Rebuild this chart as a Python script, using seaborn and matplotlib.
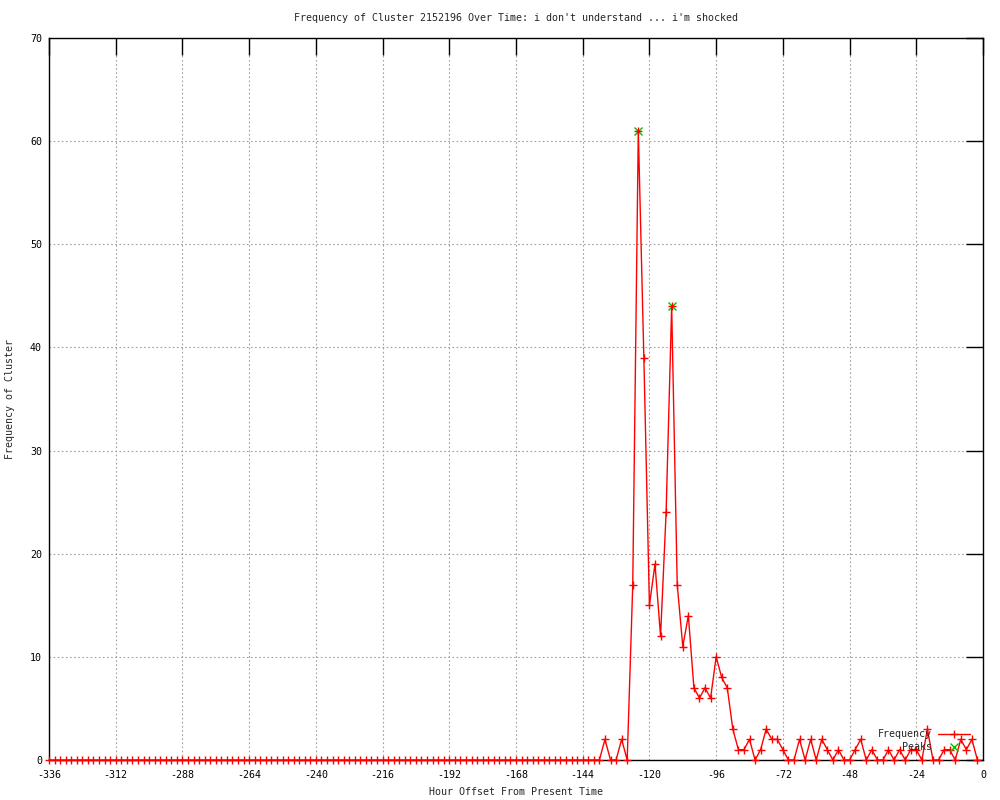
import numpy as np
import pandas as pd
import seaborn as sns
import matplotlib.pyplot as plt

# hours sampled every 2h from -336 to -2
hours = np.arange(-336, 0, 2)

freq = [
    0, 0, 0, 0, 0, 0, 0, 0, 0, 0, 0, 0, 0, 0, 0, 0, 0, 0, 0, 0,
    0, 0, 0, 0, 0, 0, 0, 0, 0, 0, 0, 0, 0, 0, 0, 0, 0, 0, 0, 0,
    0, 0, 0, 0, 0, 0, 0, 0, 0, 0, 0, 0, 0, 0, 0, 0, 0, 0, 0, 0,
    0, 0, 0, 0, 0, 0, 0, 0, 0, 0, 0, 0, 0, 0, 0, 0, 0, 0, 0, 0,
    0, 0, 0, 0, 0, 0, 0, 0, 0, 0, 0, 0, 0, 0, 0, 0, 0, 0, 0, 0,
    2, 0, 0, 2, 0, 17, 61, 39, 15, 19, 12, 24, 44, 17, 11, 14, 7, 6, 7, 6,
    10, 8, 7, 3, 1, 1, 2, 0, 1, 3, 2, 2, 1, 0, 0, 2, 0, 2, 0, 2,
    1, 0, 1, 0, 0, 1, 2, 0, 1, 0, 0, 1, 0, 1, 0, 1, 1, 0, 3, 0,
    0, 1, 1, 0, 2, 1, 2, 0,
]

peak_hours = [-124, -112]
peak_values = [61, 44]

x_ticks = list(range(-336, 1, 24))
y_ticks = list(range(0, 71, 10))

title = "Frequency of Cluster 2152196 Over Time: i don't understand ... i'm shocked"

sns.set_style('white')
plt.rcParams['font.family'] = ['DejaVu Sans Mono']
plt.rcParams['axes.unicode_minus'] = False

df = pd.DataFrame({'hour': hours, 'freq': freq})
peaks = pd.DataFrame({'hour': peak_hours, 'freq': peak_values})

fig = plt.figure(figsize=(10, 8), dpi=100)
ax = fig.add_axes([0.049, 0.05, 0.934, 0.9025])

sns.lineplot(data=df, x='hour', y='freq', ax=ax, color='#ff0000', lw=1,
             marker='+', markersize=6, markeredgecolor='#ff0000', mew=1,
             label='Frequency', clip_on=False, zorder=3)
sns.lineplot(data=peaks, x='hour', y='freq', ax=ax, color='#00c000', linestyle='',
             marker='x', markersize=5.5, markeredgecolor='#00c000', mew=1,
             label='Peaks', clip_on=False, zorder=2)

ax.set_xlim(-336, 0)
ax.set_ylim(0, 70)
ax.set_xticks(x_ticks)
ax.set_yticks(y_ticks)
ax.grid(True, color='#a0a0a0', linestyle=(0, (1.5, 2.2)), lw=0.8)

for s in ax.spines.values():
    s.set_color('black')
    s.set_linewidth(1)

ax.tick_params(direction='in', length=12, width=1, colors='black',
               top=True, right=True, labelsize=7.2)
ax.tick_params(axis='x', pad=7)
ax.tick_params(axis='y', pad=5)

ax.set_xlabel('Hour Offset From Present Time', fontsize=7.2)
ax.set_ylabel('Frequency of Cluster', fontsize=7.2)
ax.xaxis.set_label_coords(0.5, -0.037)
ax.yaxis.set_label_coords(-0.036, 0.5)
ax.text(0.5, 1.028, title, transform=ax.transAxes, ha='center', va='center',
        fontsize=7.2)

ax.legend(loc='lower right', bbox_to_anchor=(0.99, 0.005), frameon=False,
          markerfirst=False, fontsize=7.2, handlelength=3.2, borderaxespad=0,
          labelspacing=0.3, handletextpad=0.6)

fig.savefig('out.png', dpi=100)
